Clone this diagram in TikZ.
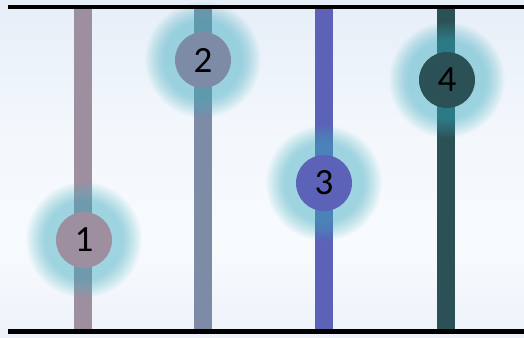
\documentclass[tikz,border=0pt]{standalone}
\usepackage{fontspec}
\setmainfont{Carlito}
\definecolor{bgtop}{HTML}{E6EEF8}
\definecolor{bgmid}{HTML}{F8FBFE}
\definecolor{bgbot}{HTML}{EDF2FA}
\definecolor{glowc}{HTML}{4BB8CC}
\definecolor{cA}{HTML}{9E8FA0}
\definecolor{cB}{HTML}{7D8BA6}
\definecolor{cC}{HTML}{5B62B8}
\definecolor{cD}{HTML}{2B5055}
\tikzset{
  bar/.style={line width=18pt},
  rail/.style={draw=black},
  glow/.style={fill=glowc, fill opacity=0.031},
  dot/.style={circle, minimum size=56pt, inner sep=0pt, text=black, font=\fontsize{37}{40}\selectfont},
}
\begin{document}
\begin{tikzpicture}[x=1pt,y=-1pt]
\useasboundingbox (0,0) rectangle (524,337);
\shade[top color=bgtop, bottom color=bgmid, middle color=bgmid!70!bgtop] (0,0) rectangle (524,250);
\shade[top color=bgmid, bottom color=bgbot] (0,250) rectangle (524,337);
% rail endpoints
\foreach \n/\x in {1/83,2/203,3/323.5,4/446}{
  \coordinate (t\n) at (\x,9);
  \coordinate (b\n) at (\x,329);
}
\draw[bar, cA] (t1) -- (b1);
\draw[bar, cB] (t2) -- (b2);
\draw[bar, cC] (t3) -- (b3);
\draw[bar, cD] (t4) -- (b4);
% glows (stacked translucent discs give a soft edge)
\foreach \x/\y in {84/240, 203/60, 324/183, 447/80}{
  \foreach \r in {39,40,...,58}{
    \fill[glow] (\x,\y) circle (\r);
  }
}
\node[dot, fill=cA] (n1) at (84,240) {1};
\node[dot, fill=cB] (n2) at (203,60) {2};
\node[dot, fill=cC] (n3) at (324,183) {3};
\node[dot, fill=cD] (n4) at (447,80) {4};
\coordinate (tl) at (8,7.5);
\coordinate (tr) at (524,7.5);
\coordinate (bl) at (8,331.5);
\coordinate (br) at (524,331.5);
\draw[rail, line width=4pt] (tl) -- (tr);
\draw[rail, line width=5pt] (bl) -- (br);
\end{tikzpicture}
\end{document}
